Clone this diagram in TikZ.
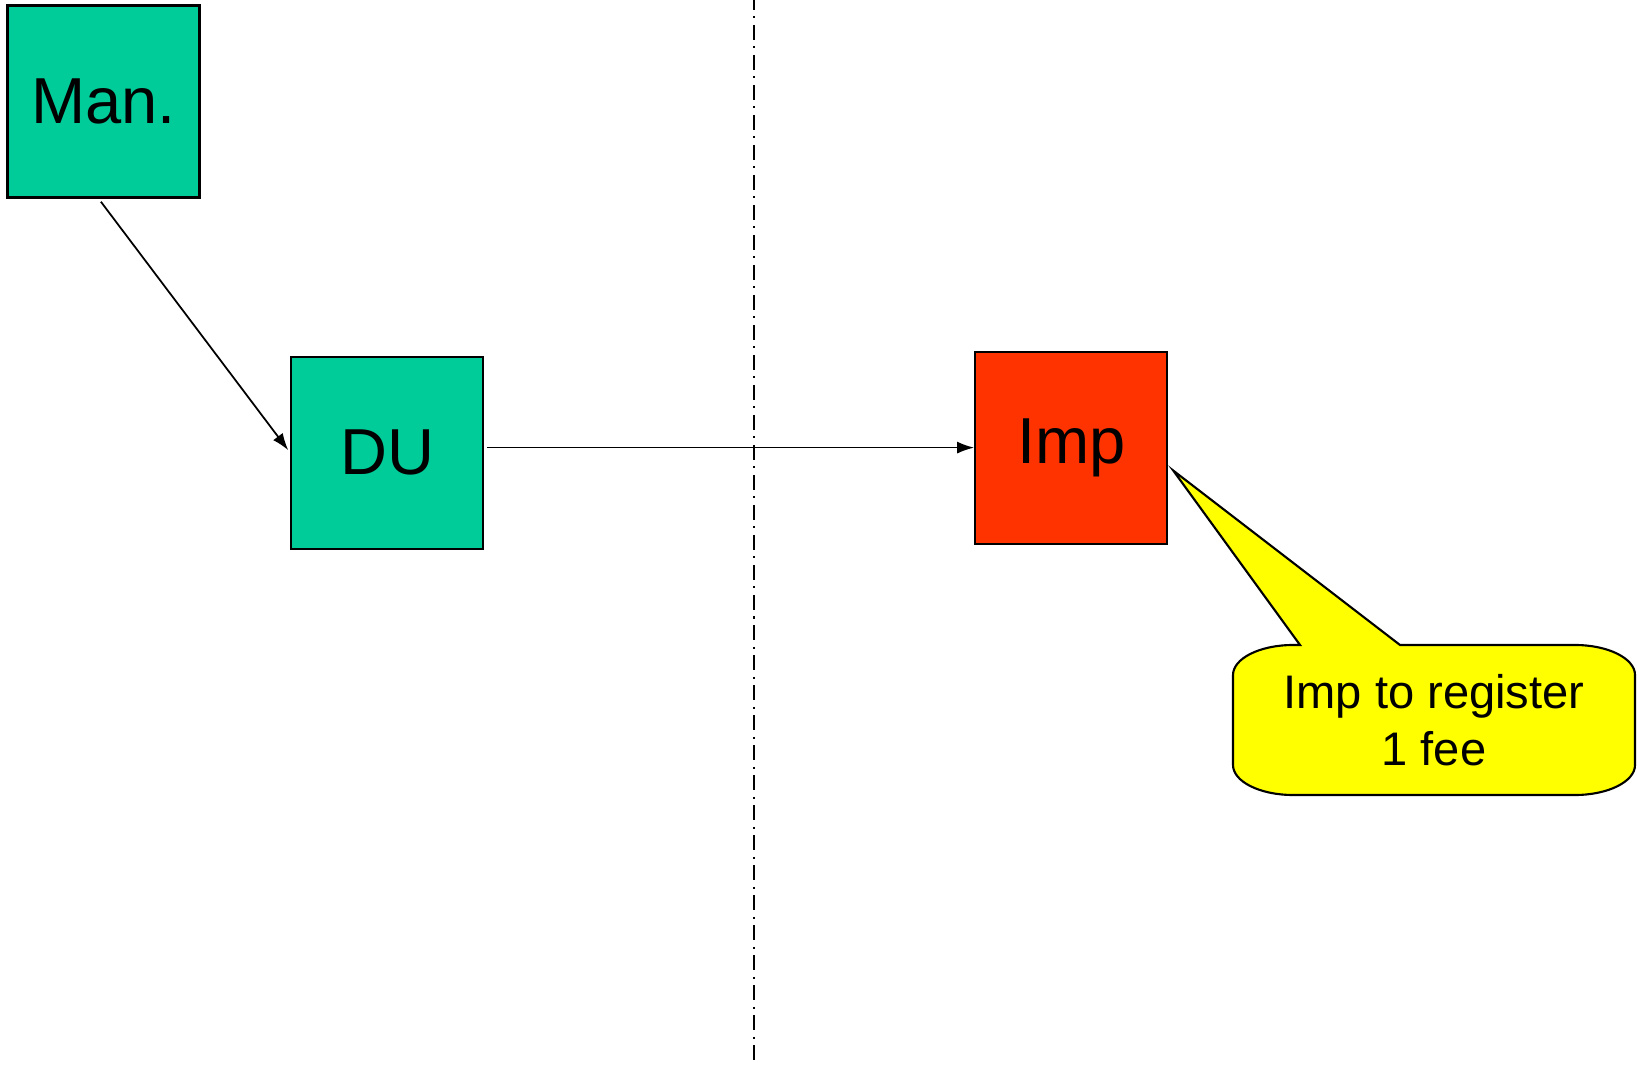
\documentclass[tikz,border=0pt]{standalone}
\usepackage{fontspec}
\setmainfont{Liberation Sans}
\usetikzlibrary{positioning, calc, arrows.meta}
\definecolor{boxgreen}{RGB}{0,204,153}
\definecolor{boxred}{RGB}{255,51,0}
\definecolor{noteyellow}{RGB}{255,255,0}
\tikzstyle{block} = [rectangle, minimum width=1.92cm, minimum height=1.92cm, inner sep=0pt, text centered, draw=black, line width=0.6pt, font=\fontsize{18.5}{22}\selectfont]
\tikzstyle{arrow} = [line width=0.5pt, -{Latex[length=0.17cm, width=0.12cm]}]
\tikzstyle{divider} = [line width=0.6pt, dash pattern=on 0.15cm off 0.065cm on 0.02cm off 0.065cm]

\begin{document}
\begin{tikzpicture}
\useasboundingbox (0,0) rectangle (16.37,-10.66);
\node (man) [block, fill=boxgreen] at (1.035,-1.015) {Man.};
\node (du) [block, fill=boxgreen, below right=1.57cm and 0.895cm of man] {DU};
\node (imp) [block, fill=boxred, right=4.9cm of du, yshift=0.05cm] {Imp};

% border line
\draw [divider] (7.54,0.05) -- (7.54,-10.6);

\draw [arrow, shorten <=0.04cm, shorten >=0.03cm] ($(man.south)+(-0.05,0)$) -- (du.west);
\draw [arrow, shorten <=0.03cm] (du.east |- imp.west) -- (imp.west);

% callout
\coordinate (tip) at ($(imp.east)+(0.05,-0.23)$);
\draw [fill=noteyellow, line width=0.6pt, line join=miter]
  (13.00,-6.45) -- (tip) -- (14.00,-6.45) -- (15.75,-6.45)
  arc [start angle=90, end angle=0, x radius=0.6cm, y radius=0.3cm]
  -- (16.35,-7.65)
  arc [start angle=0, end angle=-90, x radius=0.6cm, y radius=0.3cm]
  -- (12.93,-7.95)
  arc [start angle=-90, end angle=-180, x radius=0.6cm, y radius=0.3cm]
  -- (12.33,-6.75)
  arc [start angle=180, end angle=90, x radius=0.6cm, y radius=0.3cm]
  -- cycle;
\node (note) [align=center, font=\fontsize{13.4}{16.4}\selectfont] at (14.34,-7.2) {Imp to register\\1 fee};
\end{tikzpicture}
\end{document}
